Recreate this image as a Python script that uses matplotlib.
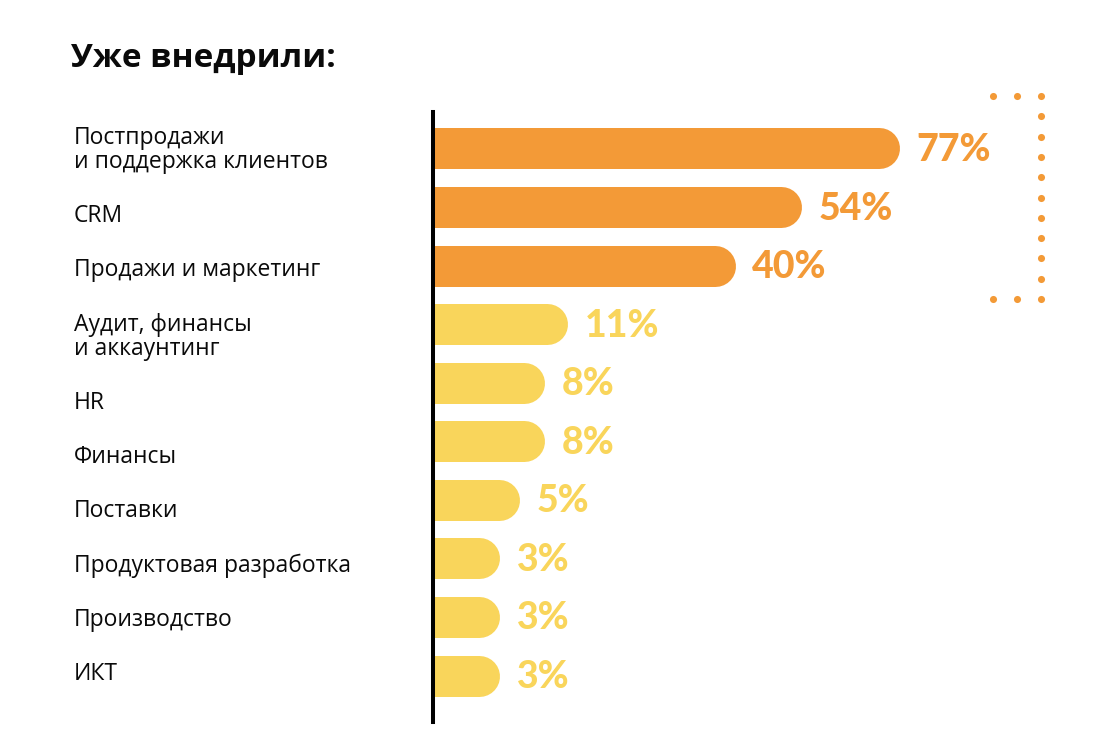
import numpy as np
import matplotlib
matplotlib.use("Agg")
from matplotlib import pyplot as plt

categories = ["Постпродажи\nи поддержка клиентов", "CRM", "Продажи и маркетинг",
              "Аудит, финансы\nи аккаунтинг", "HR", "Финансы", "Поставки",
              "Продуктовая разработка", "Производство", "ИКТ"]
values = [77, 54, 40, 11, 8, 8, 5, 3, 3, 3]
n_top = 3

orange = "#F39A37"
yellow = "#F9D55B"

W, H = 1100, 739
fig = plt.figure(figsize=(W / 100, H / 100), dpi=100)
fig.patch.set_facecolor("white")

# bar axes: left edge is the black axis line
ax = fig.add_axes([433 / W, 1 - 722 / H, 1 - 433 / W, 610 / H])
fwd = lambda v: np.sign(v) * np.abs(v) ** 0.7
inv = lambda v: np.sign(v) * np.abs(v) ** (1 / 0.7)
ax.set_xscale("function", functions=(fwd, inv))
ax.set_xlim(0, 137)
ax.set_ylim(9.794, -0.623)
for s in ["top", "right", "bottom"]:
    ax.spines[s].set_visible(False)
ax.spines["left"].set_linewidth(2.9)
ax.spines["left"].set_color("black")
ax.set_xticks([])
ax.set_yticks([])
ax.patch.set_alpha(0)

bar_h = 41 * 0.72  # points
for i, v in enumerate(values):
    c = orange if i < n_top else yellow
    ax.plot([0, v], [i, i], color=c, lw=bar_h, solid_capstyle="round")
    ax.annotate(f"{v}%", xy=(v, i), xytext=(27, -9), textcoords="offset points",
                ha="left", va="baseline", color=c, fontsize=27,
                family="Lato", fontweight="black")

# category labels: own text flow on the left, not tied to bar rows
y = 150
prev_extra = 0
for i, lab in enumerate(categories):
    extra = lab.count("\n")
    if i > 0:
        y += 54.2 + 12 * (prev_extra + extra)
    fig.text(74 / W, 1 - y / H, lab, ha="left", va="center",
             fontsize=16.5, family="Open Sans", color="#0a0a0a", linespacing=1.0)
    prev_extra = extra

fig.text(71 / W, 1 - 67 / H, "Уже внедрили:", ha="left", va="baseline",
         fontsize=24, family="Open Sans", fontweight="bold", color="#0a0a0a")

# dotted bracket
ov = fig.add_axes([0, 0, 1, 1])
ov.set_xlim(0, W)
ov.set_ylim(H, 0)
ov.axis("off")
ov.patch.set_alpha(0)
col_y = np.linspace(96, 299, 11)
ov.scatter(np.full(col_y.size, 1041), col_y, s=26, color=orange, lw=0)
ov.scatter([993, 1017, 993, 1017], [96, 96, 299, 299], s=26, color=orange, lw=0)

fig.savefig("out.png", dpi=100)
